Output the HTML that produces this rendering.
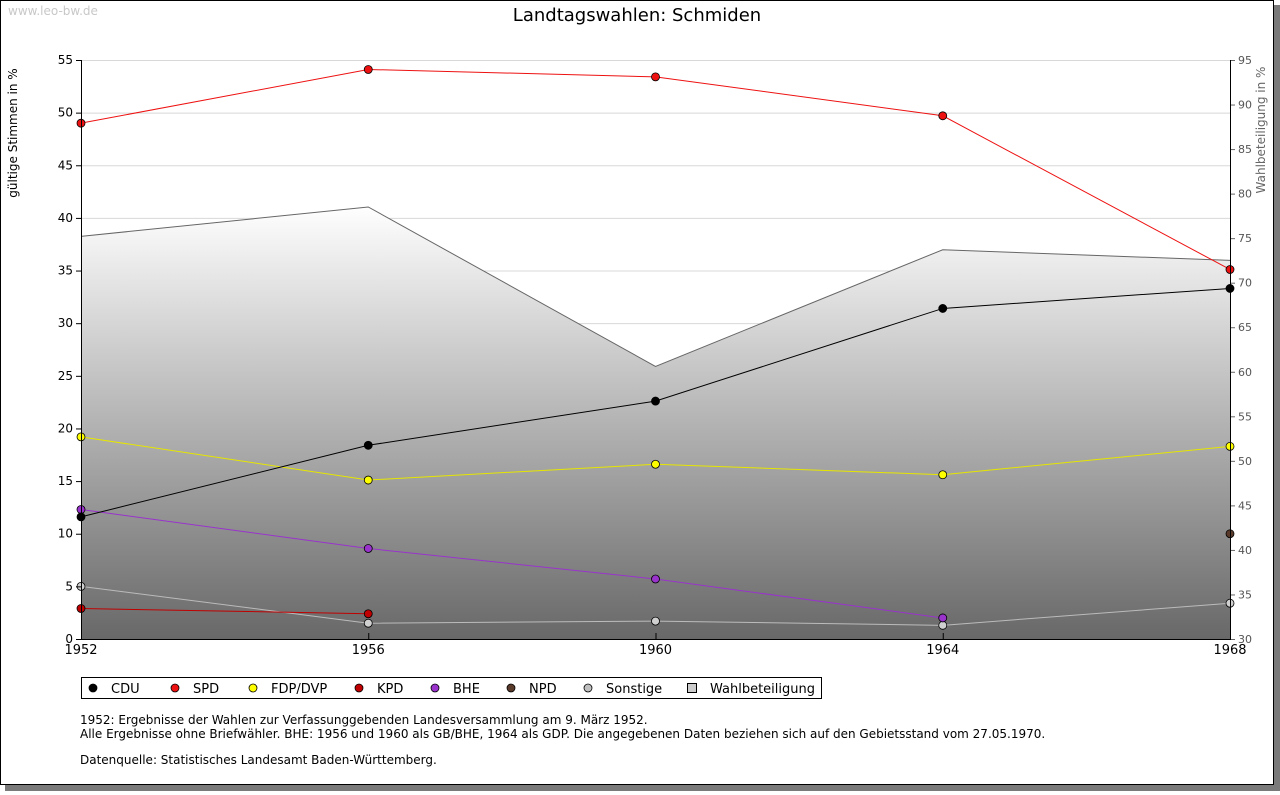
<!DOCTYPE html>
<html><head><meta charset="utf-8"><style>
body{margin:0;background:#fff;width:1280px;height:791px;overflow:hidden;font-family:"DejaVu Sans","Liberation Sans",sans-serif;}
svg text{font-family:"DejaVu Sans","Liberation Sans",sans-serif;}
</style></head><body>
<svg id="chart" width="1280" height="791">
<defs>
<linearGradient id="wg" x1="0" y1="205" x2="0" y2="639" gradientUnits="userSpaceOnUse">
<stop offset="0" stop-color="#ffffff"/><stop offset="1" stop-color="#686868"/>
</linearGradient>
</defs>
<rect x="5" y="5" width="1275" height="786" fill="#7a7a7a"/>
<rect x="0.5" y="0.5" width="1273" height="784" fill="#fff" stroke="#000"/>
<text x="8" y="15" font-size="12" fill="#c8c8c8">www.leo-bw.de</text>
<text x="637" y="21" font-size="18" text-anchor="middle">Landtagswahlen: Schmiden</text>
<text transform="translate(17,133) rotate(-90)" font-size="12" text-anchor="middle">gültige Stimmen in %</text>
<text transform="translate(1265,130) rotate(-90)" font-size="12" text-anchor="middle" fill="#666">Wahlbeteiligung in %</text>
<g id="grid"></g><g id="area"></g><g id="series"></g><g id="axes"></g>
<rect x="81.5" y="677.5" width="740" height="21" fill="#fff" stroke="#000"/>
<g id="legend"></g>
<text x="80" y="724" font-size="12">1952: Ergebnisse der Wahlen zur Verfassunggebenden Landesversammlung am 9. März 1952.</text>
<text x="80" y="738" font-size="12">Alle Ergebnisse ohne Briefwähler. BHE: 1956 und 1960 als GB/BHE, 1964 als GDP. Die angegebenen Daten beziehen sich auf den Gebietsstand vom 27.05.1970.</text>
<text x="80" y="764" font-size="12">Datenquelle: Statistisches Landesamt Baden-Württemberg.</text>
</svg>
<script>
const years=[1952,1956,1960,1964,1968];
const cdu=[11.6,18.4,22.6,31.4,33.3];
const spd=[49.0,54.1,53.4,49.7,35.1];
const fdp=[19.2,15.1,16.6,15.6,18.3];
const kpd=[2.9,2.4,null,null,null];
const bhe=[12.3,8.6,5.7,2.0,null];
const npd=[null,null,null,null,10.0];
const sonst=[5.0,1.5,1.7,1.3,3.4];
const turnout=[75.2,78.5,60.6,73.7,72.5];
const leftTicks=[0,5,10,15,20,25,30,35,40,45,50,55];
const rightTicks=[30,35,40,45,50,55,60,65,70,75,80,85,90,95];
const NS='http://www.w3.org/2000/svg';
const X0=81,X1=1230,Y0=639,Y1=60;
const xs=y=>X0+(y-1952)/(1968-1952)*(X1-X0);
const yl=v=>Y0-v/55*(Y0-Y1);
const yr=v=>Y0-(v-30)/65*(Y0-Y1);
function mk(tag,attrs,parent){const e=document.createElementNS(NS,tag);for(const k in attrs)e.setAttribute(k,attrs[k]);document.getElementById(parent).appendChild(e);return e;}
leftTicks.forEach(t=>{if(t>0){const g=mk('line',{x1:X0,x2:X1,y1:yl(t)+.5,y2:yl(t)+.5,stroke:'#d8d8d8'},'grid');

}
const tk=mk('line',{x1:X0-5,x2:X0,y1:yl(t)+.5,y2:yl(t)+.5,stroke:'#000'},'axes');


const tx=mk('text',{x:X0-8,y:yl(t)+4,'font-size':12,'text-anchor':'end'},'axes');tx.textContent=t;

});
rightTicks.forEach(t=>{const tk=mk('line',{x1:X1,x2:X1+5,y1:yr(t)+.5,y2:yr(t)+.5,stroke:'#666'},'axes');


const tx=mk('text',{x:X1+8,y:yr(t)+4,'font-size':11,fill:'#555'},'axes');tx.textContent=t;

});
let d='M'+xs(years[0])+','+Y0;years.forEach((y,i)=>d+=' L'+xs(y)+','+yr(turnout[i]));d+=' L'+xs(years[years.length-1])+','+Y0+'Z';
const ar=mk('path',{d:d,fill:'url(#wg)'},'area');


const tl=mk('polyline',{points:years.map((y,i)=>xs(y)+','+yr(turnout[i])).join(' '),fill:'none',stroke:'#666'},'area');


const ax=mk('path',{d:`M${X0+.5},${Y1} V${Y0+.5} H${X1+.5} V${Y1}`,fill:'none',stroke:'#000'},'axes');


years.forEach(y=>{const tk=mk('line',{x1:xs(y)+.5,x2:xs(y)+.5,y1:Y0,y2:Y0-6,stroke:'#000'},'axes');


const tx=mk('text',{x:xs(y),y:Y0+15,'font-size':13,'text-anchor':'middle'},'axes');tx.textContent=y;

});
const series=[['sonstige',sonst,'#d0d0d0','#bbb'],['npd',npd,'#5a3a2a','#5a3a2a'],['bhe',bhe,'#9933cc','#9933cc'],['kpd',kpd,'#c00000','#c00000'],['fdp',fdp,'#ffff00','#e6e600'],['cdu',cdu,'#000','#000'],['spd',spd,'#ee1111','#ee1111']];
series.forEach(([n,vals,fill,line])=>{let pts=[];vals.forEach((v,i)=>{if(v!==null)pts.push(xs(years[i])+','+yl(v));});
if(pts.length>1){const p=mk('polyline',{points:pts.join(' '),fill:'none',stroke:line,'stroke-width':1},'series');

}
vals.forEach((v,i)=>{if(v===null)return;const c=mk('circle',{cx:xs(years[i]),cy:yl(v),r:4,fill:fill,stroke:'#000','stroke-width':0.8},'series');

});});
const legendItems=[['CDU','#000',90],['SPD','#ee1111',172],['FDP/DVP','#ffff00',250],['KPD','#c00000',356],['BHE','#9933cc',432],['NPD','#5a3a2a',508],['Sonstige','#c0c0c0',585]];
legendItems.forEach(([l,c,x])=>{const m=mk('circle',{cx:x+3,cy:688,r:4,fill:c,stroke:'#000','stroke-width':.8},'legend');


const t=mk('text',{x:x+21,y:693,'font-size':13},'legend');t.textContent=l;

});
const sq=mk('rect',{x:687.5,y:683.5,width:9,height:9,fill:'#ccc',stroke:'#000'},'legend');


const wt=mk('text',{x:710,y:693,'font-size':13},'legend');wt.textContent='Wahlbeteiligung';


</script>
</body></html>
